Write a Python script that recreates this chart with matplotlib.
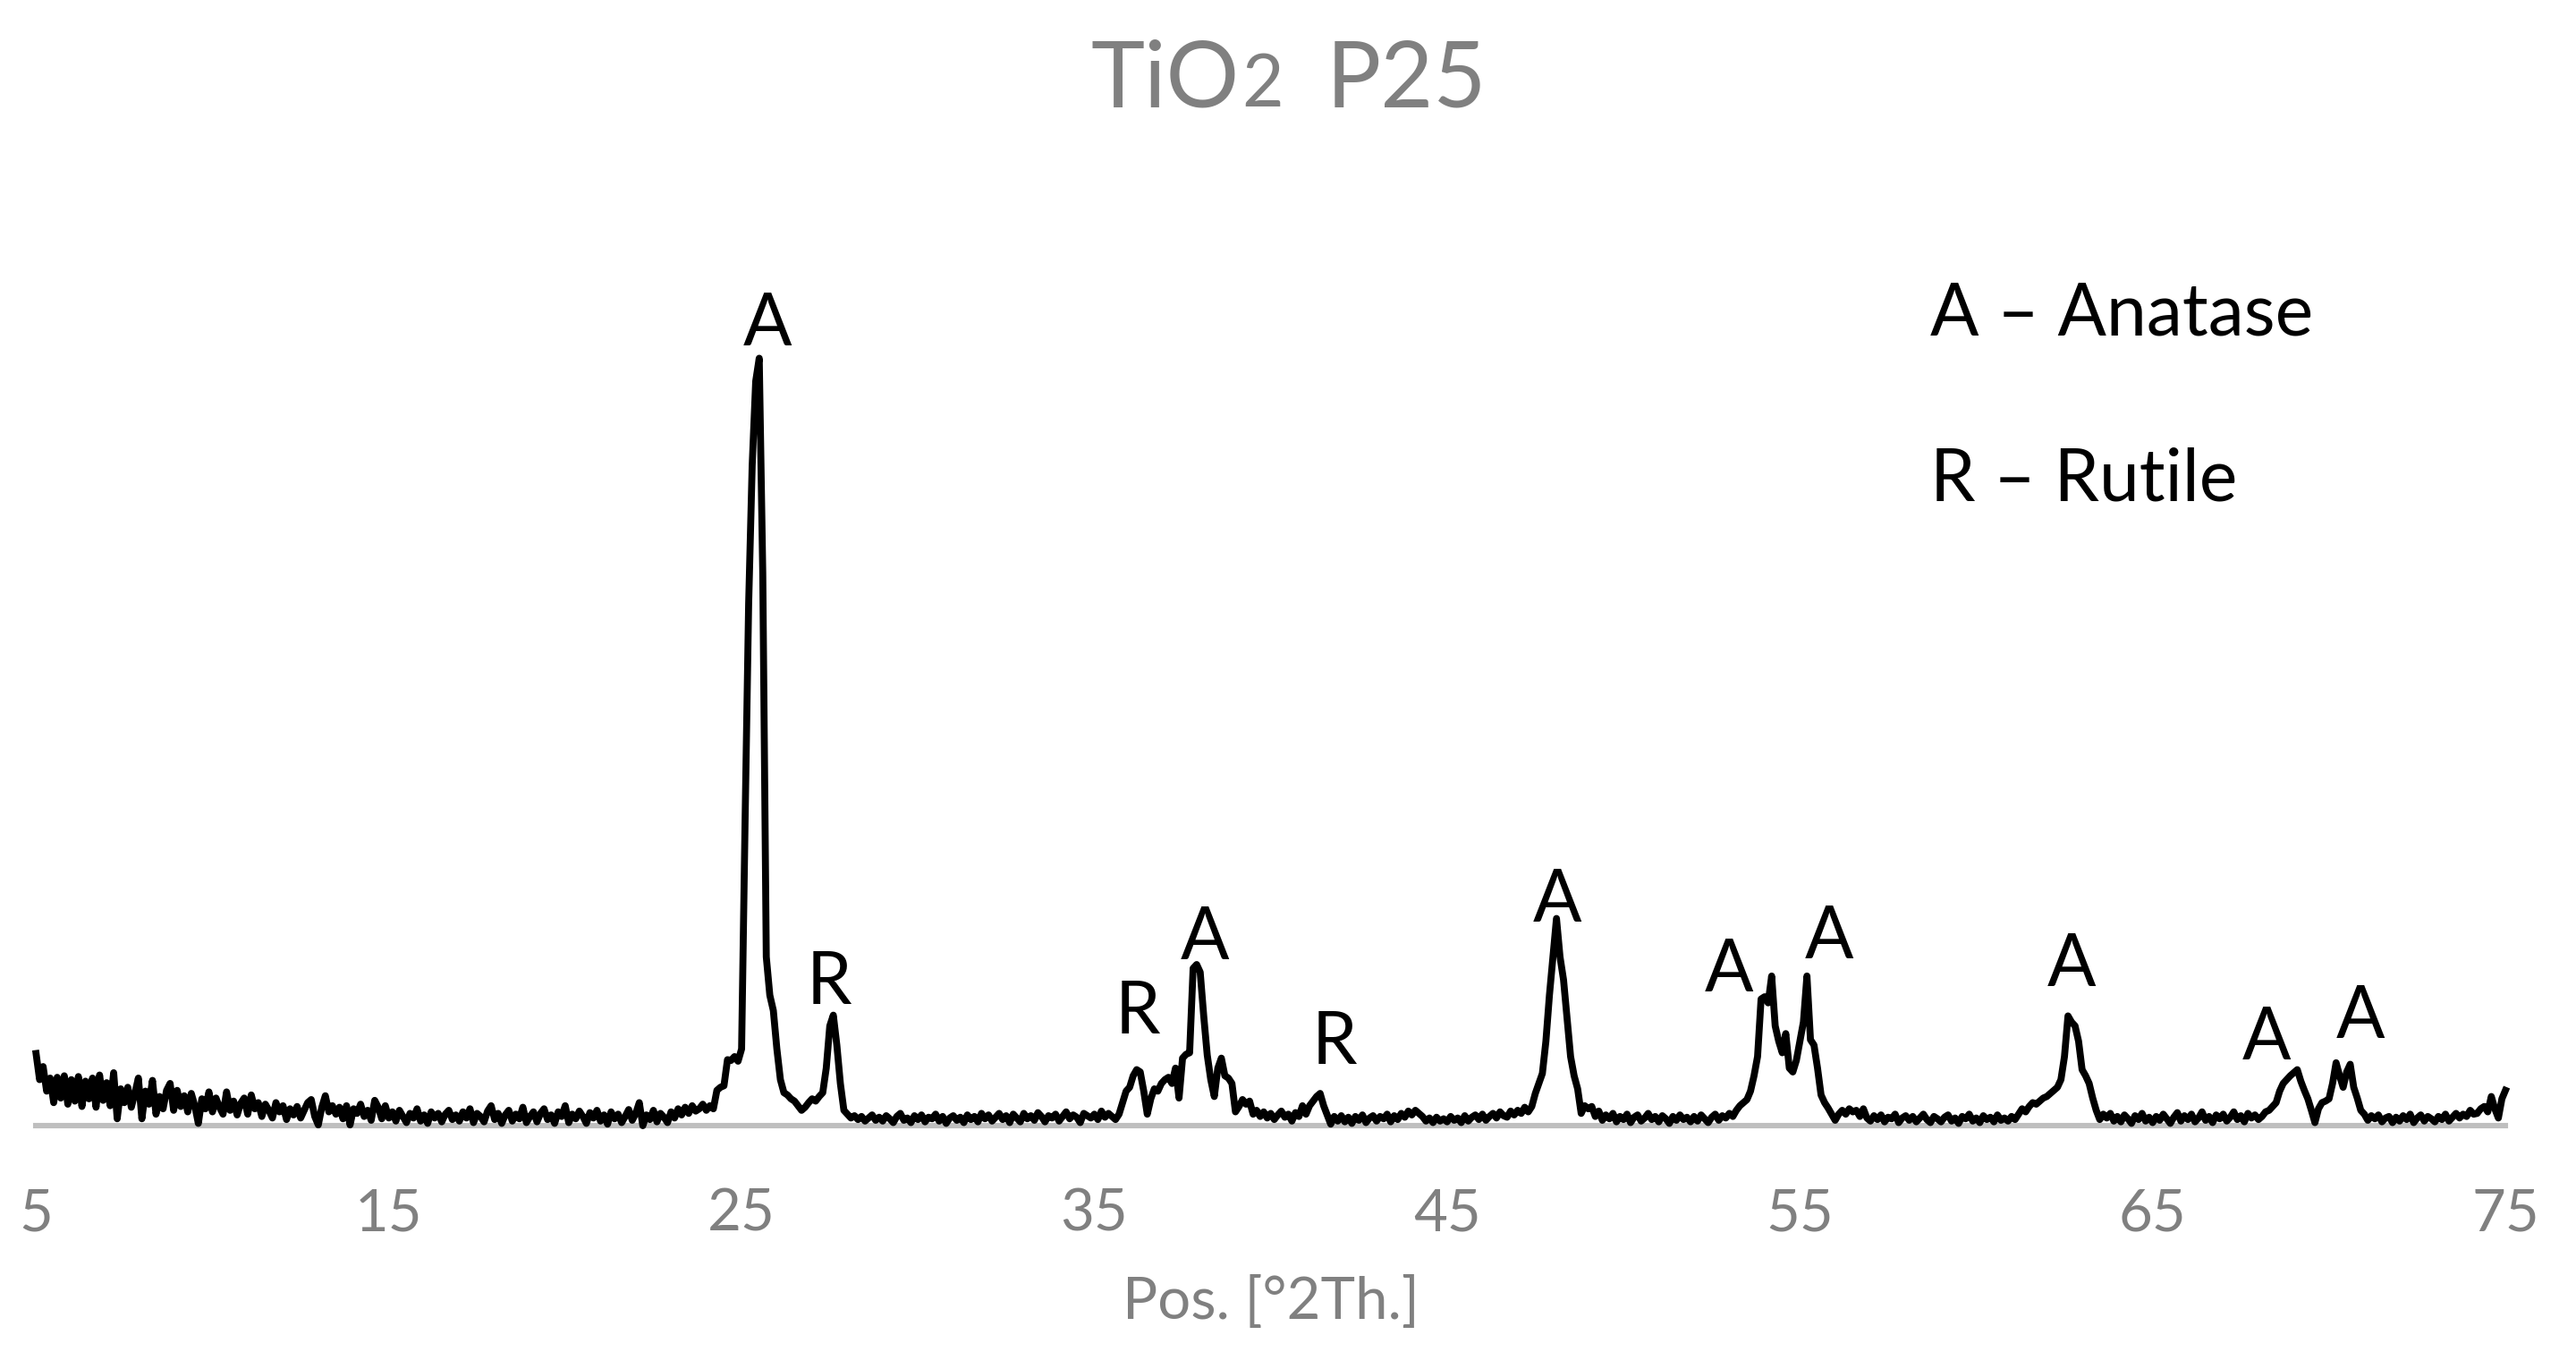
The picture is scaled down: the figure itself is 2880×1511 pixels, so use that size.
import numpy as np
import matplotlib.pyplot as plt

plt.rcParams['font.family'] = ['Lato', 'DejaVu Sans']

# scan grid of the diffractogram (step 0.1 deg)
two_theta = np.round(np.arange(5.0, 75.05, 0.1), 1)

# intensity (baseline = 0, main anatase peak = 100), one row per degree
intensity = [
    9.4, 6.0, 7.7, 4.5, 6.2, 3.0, 6.3, 3.6, 6.5, 2.8,      # 5
    6.0, 3.2, 6.4, 2.5, 5.8, 3.5, 6.2, 2.4, 6.6, 3.3,      # 6
    5.6, 2.6, 6.9, 0.9, 4.8, 3.0, 5.0, 2.4, 4.2, 6.2,      # 7
    0.9, 4.5, 2.8, 5.9, 1.5, 3.8, 2.2, 4.6, 5.5, 2.0,      # 8
    4.6, 2.5, 3.9, 1.8, 4.2, 2.6, 0.3, 3.5, 2.2, 4.4,      # 9
    1.8, 3.6, 2.4, 1.5, 4.4, 2.0, 3.2, 1.4, 2.9, 3.6,      # 10
    1.5, 4.0, 2.2, 3.0, 1.2, 2.8, 2.0, 1.0, 3.0, 1.8,      # 11
    2.6, 0.8, 2.2, 1.4, 2.5, 1.0, 2.0, 3.0, 3.4, 1.2,      # 12
    0.1, 2.4, 3.9, 1.8, 2.6, 1.5, 2.4, 0.9, 2.6, 0.1,      # 13
    2.2, 1.6, 2.8, 1.2, 2.0, 0.7, 3.3, 2.4, 0.9, 2.6,      # 14
    1.0, 1.8, 0.6, 2.0, 1.2, 0.4, 1.6, 1.0, 2.2, 0.6,      # 15
    1.4, 0.3, 1.8, 1.0, 1.6, 0.5, 1.5, 2.0, 0.8, 1.4,      # 16
    0.6, 1.8, 1.0, 2.2, 0.4, 1.6, 1.2, 0.5, 1.9, 2.6,      # 17
    0.8, 1.6, 0.3, 1.4, 2.0, 0.6, 1.5, 0.9, 2.4, 0.4,      # 18
    1.2, 1.8, 0.5, 1.6, 2.2, 0.8, 1.4, 0.3, 1.8, 1.2,      # 19
    2.6, 0.4, 1.5, 0.9, 1.9, 1.2, 0.3, 1.7, 1.0, 2.0,      # 20
    0.6, 1.4, 0.2, 1.8, 0.9, 1.5, 0.4, 1.2, 2.1, 0.7,      # 21
    1.6, 3.0, 0.0, 1.4, 0.8, 2.0, 0.5, 1.6, 1.1, 0.4,      # 22
    1.8, 1.0, 2.2, 1.4, 2.4, 1.6, 2.6, 1.9, 2.2, 2.8,      # 23
    2.0, 2.6, 2.2, 4.6, 5.0, 5.2, 8.6, 8.5, 9.0, 8.4,      # 24
    10.0, 40.0, 68.0, 86.0, 97.0, 100.0, 72.0, 22.0, 17.0, 15.0,  # 25
    10.0, 6.0, 4.3, 4.0, 3.5, 3.2, 2.6, 2.0, 2.4, 3.0,     # 26
    3.5, 3.2, 3.8, 4.3, 7.5, 13.0, 14.4, 10.5, 5.5, 2.0,   # 27
    1.5, 1.0, 1.3, 0.8, 1.2, 0.6, 1.0, 1.4, 0.7, 1.1,      # 28
    0.6, 1.3, 0.9, 0.4, 1.2, 1.6, 0.7, 1.0, 0.4, 1.3,      # 29
    0.8, 1.4, 0.5, 1.1, 0.9, 1.5, 0.6, 1.2, 0.3, 1.0,      # 30
    1.3, 0.7, 1.1, 0.4, 1.4, 0.8, 1.2, 0.5, 1.6, 0.9,      # 31
    1.4, 0.6, 1.1, 1.6, 0.8, 1.3, 0.4, 1.5, 1.0, 0.5,      # 32
    1.6, 0.9, 1.3, 0.7, 1.7, 1.2, 0.5, 1.3, 1.0, 1.5,      # 33
    0.6, 1.2, 1.8, 0.9, 1.4, 1.1, 0.4, 1.6, 1.3, 1.0,      # 34
    1.5, 0.8, 1.9, 1.1, 1.6, 1.2, 0.8, 1.5, 3.0, 4.5,      # 35
    5.0, 6.5, 7.3, 7.0, 4.5, 1.5, 3.5, 4.8, 4.5, 5.5,      # 36
    6.0, 6.3, 5.5, 7.5, 3.6, 8.8, 9.3, 9.5, 20.5, 21.0,    # 37
    20.0, 14.3, 9.2, 6.0, 3.8, 7.5, 8.8, 6.5, 6.2, 5.5,    # 38
    1.8, 2.5, 3.4, 2.8, 3.2, 1.5, 2.0, 1.2, 1.8, 1.0,      # 39
    1.6, 0.8, 1.4, 1.9, 1.1, 1.5, 0.6, 1.7, 1.2, 2.6,      # 40
    1.5, 2.6, 3.2, 3.8, 4.2, 2.6, 1.4, 0.2, 1.2, 0.6,      # 41
    1.3, 0.5, 1.1, 0.3, 1.2, 0.7, 1.4, 0.4, 1.0, 1.3,      # 42
    0.6, 1.2, 0.9, 1.5, 0.5, 1.3, 0.8, 1.6, 1.1, 1.9,      # 43
    1.4, 2.0, 1.6, 1.2, 0.6, 1.0, 0.4, 1.1, 0.6, 0.9,      # 44
    0.5, 1.2, 0.7, 1.0, 0.4, 1.3, 0.6, 1.1, 1.4, 0.8,      # 45
    1.5, 0.7, 1.2, 1.6, 1.0, 1.8, 1.3, 1.1, 1.9, 1.4,      # 46
    2.0, 1.6, 2.4, 1.8, 2.5, 4.2, 5.5, 6.8, 11.0, 17.0,    # 47
    22.0, 27.0, 22.0, 19.0, 14.0, 9.0, 6.5, 4.8, 1.6, 2.6, # 48
    2.2, 2.5, 1.2, 1.9, 0.7, 1.4, 0.9, 1.6, 0.5, 1.2,      # 49
    0.8, 1.5, 0.4, 1.1, 1.4, 0.6, 1.0, 1.6, 0.8, 1.2,      # 50
    0.5, 1.3, 0.9, 0.3, 1.2, 0.7, 1.4, 0.8, 1.1, 0.5,      # 51
    1.2, 0.6, 1.4, 0.9, 0.4, 1.1, 1.5, 0.7, 1.3, 1.0,      # 52
    1.6, 1.2, 2.0, 2.6, 3.0, 3.4, 4.5, 6.5, 9.0, 16.5,     # 53
    16.8, 16.0, 19.5, 13.0, 11.0, 9.5, 12.0, 7.5, 7.0, 8.5,  # 54
    11.0, 13.5, 19.5, 11.2, 10.5, 7.5, 4.0, 3.0, 2.3, 1.5,   # 55
    0.7, 1.5, 2.0, 1.5, 2.2, 1.8, 2.0, 1.2, 2.2, 1.0,      # 56
    0.6, 1.3, 0.8, 1.4, 0.5, 1.1, 0.9, 1.5, 0.4, 1.0,      # 57
    1.3, 0.7, 1.2, 0.5, 1.0, 1.5, 0.8, 0.4, 1.2, 0.9,      # 58
    0.5, 1.1, 1.4, 0.6, 1.0, 0.3, 1.2, 0.9, 1.5, 0.6,      # 59
    1.0, 0.4, 1.3, 0.8, 1.1, 0.5, 1.4, 0.7, 1.0, 0.6,      # 60
    1.2, 0.8, 1.5, 2.2, 1.8, 2.5, 3.0, 2.8, 3.2, 3.6,      # 61
    3.8, 4.2, 4.6, 5.0, 6.0, 9.0, 14.3, 13.5, 13.0, 11.0,  # 62
    7.3, 6.5, 5.5, 3.6, 2.0, 0.8, 1.5, 1.0, 1.6, 0.6,      # 63
    1.2, 0.5, 1.4, 0.9, 0.3, 1.3, 0.8, 1.6, 0.6, 1.1,      # 64
    0.4, 1.2, 0.7, 1.5, 0.9, 0.3, 1.1, 1.7, 0.6, 1.3,      # 65
    0.8, 1.5, 0.5, 1.0, 1.8, 0.7, 1.2, 0.4, 1.4, 0.9,      # 66
    1.5, 0.6, 1.1, 1.8, 0.8, 1.3, 0.5, 1.6, 1.0, 1.4,      # 67
    0.8, 1.2, 1.8, 2.0, 2.5, 3.0, 4.5, 5.5, 6.0, 6.5,      # 68
    6.9, 7.3, 5.8, 4.6, 3.5, 2.0, 0.4, 2.2, 3.0, 3.2,      # 69
    3.5, 5.5, 8.2, 6.5, 5.0, 7.0, 8.0, 5.0, 3.6, 2.0,      # 70
    1.5, 0.7, 1.3, 0.9, 1.4, 0.5, 1.0, 1.2, 0.4, 1.1,      # 71
    0.6, 1.3, 0.8, 1.5, 0.4, 1.0, 1.4, 0.6, 1.2, 0.9,      # 72
    0.5, 1.2, 0.8, 1.5, 0.6, 1.1, 1.6, 1.0, 1.5, 1.2,      # 73
    2.0, 1.5, 1.6, 2.2, 2.5, 1.8, 3.8, 2.2, 1.0, 3.5,      # 74
    4.6,                                                   # 75
]

# phase labels over the reflections
peak_labels = ["A", "R", "R", "A", "R", "A", "A", "A", "A", "A", "A"]
peak_label_x = [25.73, 27.48, 36.23, 38.13, 41.80, 48.11, 52.98, 55.84, 62.70, 68.22, 70.88]
peak_label_y = [101.7, 15.9, 12.0, 21.7, 8.1, 26.6, 17.5, 21.8, 18.2, 8.6, 11.4]

legend_lines = ["A \u2013 Anatase", "R \u2013 Rutile"]
legend_y = [103.0, 81.4]

xticks = [5, 15, 25, 35, 45, 55, 65, 75]
cinza = '#808080'

fig = plt.figure(figsize=(14.4, 7.555), dpi=200)
ax = fig.add_axes([0.014, 0.1674, 0.9586, 0.6244])

ax.plot(two_theta, intensity, color='black', lw=2.8, zorder=3, clip_on=False)

ax.set_xlim(5, 75)
ax.set_ylim(0, 110)
ax.set_yticks([])
for lado in ['top', 'right', 'left']:
    ax.spines[lado].set_visible(False)
ax.spines['bottom'].set_color('#bfbfbf')
ax.spines['bottom'].set_linewidth(2.2)
ax.spines['bottom'].set_zorder(1)

ax.set_xticks(xticks)
ax.tick_params(axis='x', length=0, pad=25, labelsize=23.5, labelcolor=cinza)
ax.set_xlabel('Pos. [°2Th.]', fontsize=23.5, color=cinza, labelpad=14)

for lab, px, py in zip(peak_labels, peak_label_x, peak_label_y):
    ax.text(px, py, lab, ha='center', va='baseline', fontsize=29, color='black')

for txt, ly in zip(legend_lines, legend_y):
    ax.text(58.7, ly, txt, ha='left', va='baseline', fontsize=29, color='black')

# title with subscript 2 drawn as smaller text
t1 = fig.text(0.4233, 0.9212, 'TiO', fontsize=36.7, color=cinza, ha='left', va='baseline')
t2 = fig.text(0, 0, '2', fontsize=29, color=cinza, ha='left', va='baseline')
t3 = fig.text(0, 0, 'P25', fontsize=36.7, color=cinza, ha='left', va='baseline')

fig.canvas.draw()
r = fig.canvas.get_renderer()
bb1 = t1.get_window_extent(r)
W, H = fig.bbox.width, fig.bbox.height
t2.set_position(((bb1.x1 + 3) / W, 0.9212))
fig.canvas.draw()
bb2 = t2.get_window_extent(r)
t3.set_position(((bb2.x1 + 48) / W, 0.9212))

fig.savefig('out.png', dpi=200)
